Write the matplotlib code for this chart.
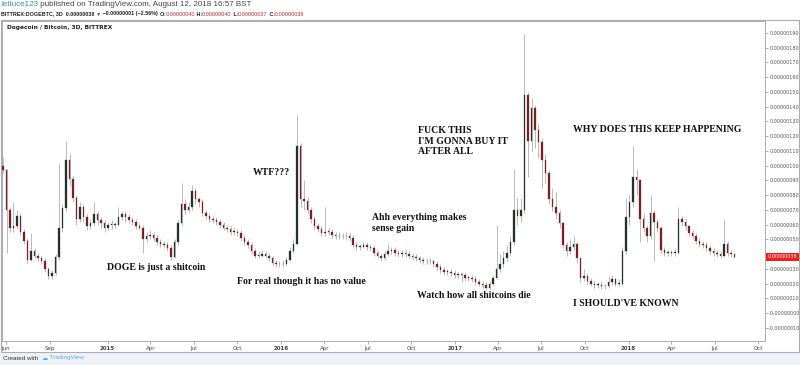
import numpy as np
import pandas as pd
import matplotlib
matplotlib.use('Agg')
import matplotlib.pyplot as plt
import matplotlib.transforms as mtransforms
from matplotlib.patches import Rectangle

W, H = 800, 365

# DOGE/BTC candles, values in satoshi (1e-8 BTC)
first_date = '2014-05-26'
last_date = '2018-08-12'
first_open = 100

closes = [
    97, 70, 58, 59, 66, 55, 49, 36, 42, 39,
    37, 35, 30, 25, 27, 38, 58, 71, 104, 91,
    78, 64, 72, 65, 59, 61, 67, 63, 61, 58,
    60, 60, 60, 65, 67, 65, 63, 62, 59, 58,
    50, 52, 53, 51, 48, 47, 46, 44, 38, 48,
    61, 74, 70, 72, 83, 77, 75, 68, 66, 64,
    63, 62, 60, 58, 57, 55, 55, 54, 51, 48,
    46, 42, 39, 39, 40, 39, 37, 34, 33, 33,
    33, 36, 42, 47, 113, 77, 76, 70, 64, 59,
    57, 54, 55, 55, 53, 52, 52, 52, 52, 51,
    46, 45, 45, 46, 45, 44, 41, 39, 37, 40,
    42, 43, 41, 40, 41, 40, 39, 38, 37, 36,
    35, 35, 35, 33, 31, 29, 28, 28, 27, 26,
    26, 26, 24, 24, 23, 21, 20, 19, 17, 20,
    24, 30, 33, 37, 41, 48, 70, 66, 70, 148,
    117, 139, 124, 116, 104, 95, 77, 72, 68, 61,
    46, 42, 45, 47, 37, 24, 25, 22, 20, 19,
    19, 18, 18, 21, 23, 20, 20, 42, 65, 75,
    92, 90, 64, 58, 52, 68, 62, 58, 43, 41,
    41, 41, 41, 64, 62, 59, 54, 52, 49, 47,
    46, 44, 42, 41, 40, 39, 47, 41, 40, 38,
]
highs = [
    106, 98, 72, 75, 70, 68, 57, 50, 54, 44,
    41, 39, 37, 31, 29, 40, 102, 74, 117, 108,
    93, 80, 75, 74, 67, 64, 75, 69, 65, 63,
    62, 63, 62, 72, 69, 69, 67, 65, 64, 61,
    60, 55, 56, 55, 53, 50, 49, 48, 46, 50,
    64, 88, 77, 75, 87, 85, 79, 77, 70, 68,
    66, 65, 64, 62, 60, 59, 58, 57, 56, 53,
    50, 48, 44, 42, 43, 42, 41, 39, 36, 35,
    36, 38, 45, 50, 134, 115, 90, 79, 72, 66,
    61, 59, 72, 58, 57, 55, 55, 54, 55, 54,
    53, 48, 47, 48, 48, 47, 46, 43, 41, 42,
    47, 45, 45, 43, 43, 43, 42, 41, 40, 39,
    38, 37, 37, 36, 35, 33, 31, 30, 30, 29,
    28, 28, 28, 26, 26, 25, 23, 22, 21, 22,
    26, 60, 40, 42, 46, 52, 98, 78, 78, 189,
    150, 146, 141, 128, 119, 108, 97, 85, 82, 70,
    62, 48, 50, 52, 48, 38, 30, 27, 24, 22,
    21, 22, 20, 25, 26, 24, 23, 45, 78, 80,
    113, 98, 91, 68, 60, 80, 70, 64, 59, 45,
    43, 43, 44, 72, 66, 64, 60, 56, 54, 51,
    49, 48, 46, 44, 43, 42, 64, 49, 43, 40,
]
lows = [
    95, 41, 55, 55, 57, 53, 47, 34, 35, 37,
    35, 33, 28, 23, 23, 26, 36, 55, 69, 86,
    75, 60, 62, 62, 56, 57, 59, 60, 58, 55,
    56, 57, 58, 59, 63, 62, 61, 60, 57, 56,
    41, 48, 50, 49, 46, 45, 44, 42, 36, 37,
    46, 59, 67, 68, 70, 74, 72, 66, 64, 62,
    61, 60, 58, 56, 55, 53, 53, 52, 49, 46,
    44, 40, 37, 37, 38, 37, 35, 32, 31, 31,
    31, 32, 35, 41, 46, 72, 70, 67, 61, 56,
    55, 52, 52, 53, 51, 50, 50, 50, 50, 49,
    44, 43, 43, 44, 43, 42, 39, 37, 35, 36,
    39, 40, 39, 38, 38, 38, 37, 36, 35, 34,
    33, 33, 33, 31, 29, 27, 26, 26, 25, 24,
    24, 21, 22, 22, 21, 19, 18, 17, 16, 16,
    19, 23, 28, 31, 35, 39, 46, 60, 62, 68,
    92, 110, 112, 105, 85, 88, 74, 69, 64, 58,
    44, 39, 40, 43, 34, 21, 22, 20, 18, 17,
    17, 16, 16, 17, 19, 18, 18, 19, 40, 60,
    72, 80, 48, 55, 48, 50, 35, 55, 41, 39,
    39, 39, 39, 40, 59, 56, 52, 50, 47, 45,
    44, 42, 40, 39, 38, 37, 38, 39, 38, 37,
]

month_ticks = ['2014-06-01', '2014-09-01', '2015-01-01', '2015-04-01', '2015-07-01',
               '2015-10-01', '2016-01-01', '2016-04-01', '2016-07-01', '2016-10-01',
               '2017-01-01', '2017-04-01', '2017-07-01', '2017-10-01', '2018-01-01',
               '2018-04-01', '2018-07-01', '2018-10-01']
month_labels = ['Jun', 'Sep', '2015', 'Apr', 'Jul', 'Oct', '2016', 'Apr', 'Jul', 'Oct',
                '2017', 'Apr', 'Jul', 'Oct', '2018', 'Apr', 'Jul', 'Oct']
price_ticks = list(range(-10, 200, 10))

notes = [
    ('DOGE is just a shitcoin', 107, 268),
    ('WTF???', 253, 173),
    ('For real though it has no value', 237, 282),
    ('Ahh everything makes\nsense gain', 372, 223),
    ('Watch how all shitcoins die', 417, 296),
    ("FUCK THIS\nI'M GONNA BUY IT\nAFTER ALL", 418, 141),
    ('WHY DOES THIS KEEP HAPPENING', 573, 130),
    ("I SHOULD'VE KNOWN", 573, 304),
]

dates = pd.date_range(first_date, last_date, periods=len(closes))
x = matplotlib.dates.date2num(dates)
c = np.array(closes, dtype=float)
o = np.concatenate([[first_open], c[:-1]])
hi = np.array(highs, dtype=float)
lo = np.array(lows, dtype=float)
up = c >= o

fig = plt.figure(figsize=(W / 100, H / 100), dpi=100)
fig.patch.set_facecolor('white')

def fx(px):
    return px / W

def fy(py):
    return 1 - py / H

# bottom "created with" strip and chart frame
fig.patches.append(Rectangle((0, 0), 1, fy(353), transform=fig.transFigure,
                             facecolor='#eef1f6', edgecolor='none', zorder=-2))
fig.patches.append(Rectangle((fx(1), fy(352)), fx(798), (352 - 20) / H, transform=fig.transFigure,
                             facecolor='white', edgecolor='#a9adb3', lw=0.8, zorder=-1))

ax = fig.add_axes([fx(2), fy(341), fx(763), (341 - 21) / H])
ax.set_zorder(2)
ax.set_facecolor('white')

step = x[1] - x[0]
bw = step * 0.4
ax.vlines(x, lo, hi, color='#a0a0a0', lw=0.5, zorder=2)
body_lo = np.minimum(o, c)
body_h = np.maximum(np.abs(c - o), 0.4)
ax.bar(x[up], body_h[up], bw, bottom=body_lo[up], color='#26302b', edgecolor='#26302b', lw=0.2, zorder=3)
ax.bar(x[~up], body_h[~up], bw, bottom=body_lo[~up], color='#7d1f22', edgecolor='#7d1f22', lw=0.2, zorder=3)

start = matplotlib.dates.date2num(pd.Timestamp(first_date))
px_per_day = 731.5 / (dates[-1] - dates[0]).days
ax.set_xlim(start - 1 / px_per_day, start + 762 / px_per_day)
ax.set_ylim(-19.0, 198.1)

tick_x = matplotlib.dates.date2num(pd.to_datetime(month_ticks))
ax.set_xticks(tick_x)
ax.set_xticklabels(month_labels)
for lab in ax.get_xticklabels():
    if lab.get_text().isdigit():
        lab.set_fontweight('bold')
ax.tick_params(axis='x', length=2, width=0.5, color='#888888', labelsize=4,
               labelcolor='#444444', pad=1.5)

# the 0.00000040 label is hidden behind the last-price tag, as on TradingView
ax.yaxis.tick_right()
ax.set_yticks(price_ticks)
ax.set_yticklabels(['' if v == 40 else '-0.00000000' if v == 0 else f'{v * 1e-8:.8f}'
                    for v in price_ticks])
ax.tick_params(axis='y', length=2, width=0.5, color='#888888', labelsize=3.5,
               labelcolor='#555555', pad=1)
for s in ax.spines.values():
    s.set_color('#a9adb3')
    s.set_linewidth(0.7)

# last price label
trans = mtransforms.blended_transform_factory(ax.transAxes, ax.transData)
ax.text(1.003, closes[-1], f'{closes[-1] * 1e-8:.8f}', transform=trans, fontsize=3.5,
        color='white', va='center', ha='left', zorder=5, clip_on=False,
        bbox=dict(boxstyle='square,pad=0.35', facecolor='#f0201e', edgecolor='none'))

# chart title inside pane
fig.text(fx(7), fy(27), 'Dogecoin / Bitcoin, 3D, BITTREX', fontsize=4.2, fontweight='bold',
         color='#222222', va='center')

# header lines
renderer = fig.canvas.get_renderer()

def chain(px, py, parts, size):
    xpos = px
    for s, col, wt in parts:
        t = fig.text(fx(xpos), fy(py), s, fontsize=size, color=col, fontweight=wt,
                     va='center', family=['Liberation Sans', 'DejaVu Sans'])
        xpos = t.get_window_extent(renderer).x1

chain(1, 5, [('lettuce123', '#3d86c6', 'normal'),
             (' published on TradingView.com, August 12, 2018 16:57 BST', '#444444', 'normal')], 5.8)
red = '#c4262b'
chain(1, 14, [('BITTREX:DOGEBTC, 3D  0.00000038 ', '#222222', 'bold'),
              ('▼', red, 'normal'),
              (' −0.00000001 (−2.56%) ', '#222222', 'bold'),
              ('O:', '#222222', 'bold'), ('0.00000040', red, 'normal'),
              (' H:', '#222222', 'bold'), ('0.00000040', red, 'normal'),
              (' L:', '#222222', 'bold'), ('0.00000037', red, 'normal'),
              (' C:', '#222222', 'bold'), ('0.00000038', red, 'normal')], 3.9)

chain(3, 358, [('Created with  ', '#333333', 'normal'),
               ('☁', '#5aaee8', 'normal'),
               (' TradingView', '#5aaee8', 'normal')], 4.5)

# annotations
for txt, px, py in notes:
    fig.text(fx(px), fy(py), txt, fontsize=7, fontweight='bold', color='#111111',
             family='Liberation Serif', va='center', ha='left', linespacing=1.15, zorder=5)

fig.savefig('out.png', dpi=100)
